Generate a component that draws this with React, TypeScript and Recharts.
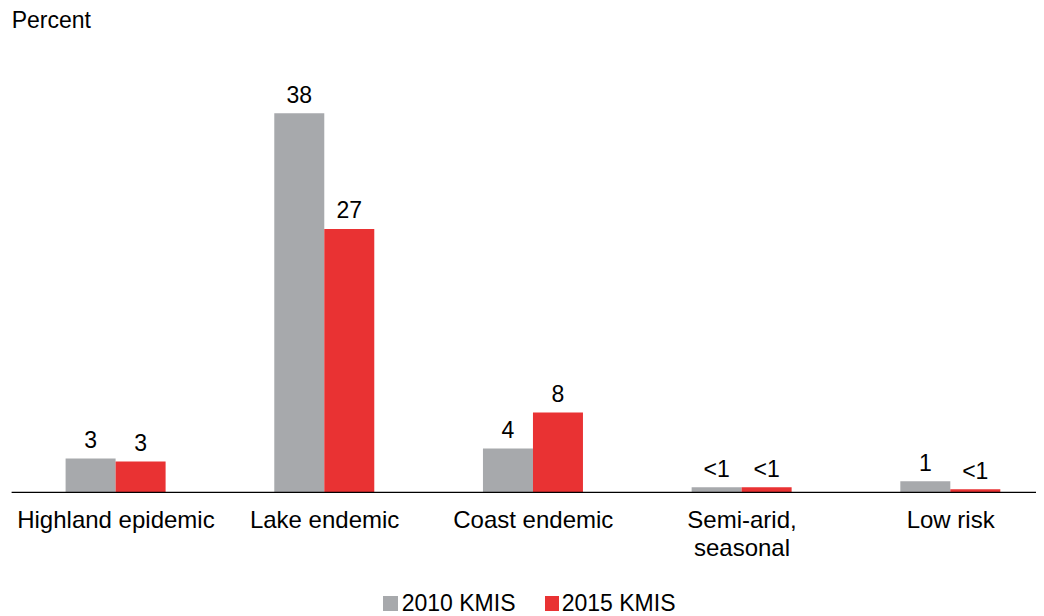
import React from 'react';
import { BarChart, Bar, XAxis, YAxis, LabelList, Legend } from 'recharts';

const categories = ['Highland epidemic', 'Lake endemic', 'Coast endemic', 'Semi-arid,\nseasonal', 'Low risk'];
const values2010 = [3.4, 38, 4.4, 0.5, 1.1];
const values2015 = [3.1, 26.4, 8.0, 0.5, 0.3];
const labels2010 = ['3', '38', '4', '<1', '1'];
const labels2015 = ['3', '27', '8', '<1', '<1'];
const seriesNames = ['2010 KMIS', '2015 KMIS'];

const GRAY = '#A7A9AC';
const RED = '#E93233';
const FONT = '"Liberation Sans", Arial, Helvetica, sans-serif';

const data = categories.map((c, i) => ({
  category: c,
  v2010: values2010[i],
  v2015: values2015[i],
  l2010: labels2010[i],
  l2015: labels2015[i],
}));

const CategoryTick = (props: any) => {
  const { x, y, payload } = props;
  const lines = String(payload.value).split('\n');
  return (
    <text x={x} y={y} textAnchor="middle" fontFamily={FONT} fontSize={24} fill="#000">
      {lines.map((ln, i) => (
        <tspan key={i} x={x} dy={i === 0 ? 35.7 : 27.6}>
          {ln}
        </tspan>
      ))}
    </text>
  );
};

const makeLabel = (key: 'l2010' | 'l2015') => (props: any) => {
  const { x, y, width, index } = props;
  return (
    <text
      x={x + width / 2}
      y={y - 10.7}
      textAnchor="middle"
      fontFamily={FONT}
      fontSize={23}
      fill="#000"
    >
      {data[index][key]}
    </text>
  );
};

const LegendContent = () => (
  <div style={{ position: 'relative', width: 300, height: 20, fontFamily: FONT, fontSize: 23, lineHeight: '20px', color: '#000' }}>
    <div style={{ position: 'absolute', left: 0, top: 3.6, width: 14.4, height: 14.4, background: GRAY }} />
    <div style={{ position: 'absolute', left: 18.4, top: 0, whiteSpace: 'nowrap' }}>{seriesNames[0]}</div>
    <div style={{ position: 'absolute', left: 161.7, top: 3.6, width: 14.4, height: 14.4, background: RED }} />
    <div style={{ position: 'absolute', left: 178.4, top: 0, whiteSpace: 'nowrap' }}>{seriesNames[1]}</div>
  </div>
);

export default function App() {
  return (
    <div
      style={{
        position: 'relative',
        margin: '-8px 0 0 -8px',
        width: 1044,
        height: 616,
        overflow: 'hidden',
        background: '#fff',
        fontFamily: FONT,
      }}
    >
      <div
        style={{
          position: 'absolute',
          left: 11.7,
          top: 8.8,
          fontSize: 23,
          lineHeight: 1,
          color: '#000',
          zIndex: 2,
        }}
      >
        Percent
      </div>
      <BarChart
        width={1070}
        height={616}
        data={data}
        margin={{ top: 93.34, right: 15, left: 11.6, bottom: 33.7 }}
        barGap={0}
        barSize={50}
      >
        <YAxis hide domain={[0, 40]} />
        <XAxis
          dataKey="category"
          height={70}
          tickLine={false}
          tickSize={0}
          tickMargin={0}
          axisLine={{ stroke: '#000', strokeWidth: 1.3 }}
          tick={<CategoryTick />}
          interval={0}
        />
        <Legend
          verticalAlign="bottom"
          content={<LegendContent />}
          wrapperStyle={{ position: 'absolute', left: 383.3, top: 592.9, bottom: 'auto', width: 300, height: 20 }}
        />
        <Bar dataKey="v2010" name={seriesNames[0]} fill={GRAY} isAnimationActive={false}>
          <LabelList dataKey="l2010" content={makeLabel('l2010')} />
        </Bar>
        <Bar dataKey="v2015" name={seriesNames[1]} fill={RED} isAnimationActive={false}>
          <LabelList dataKey="l2015" content={makeLabel('l2015')} />
        </Bar>
      </BarChart>
    </div>
  );
}
